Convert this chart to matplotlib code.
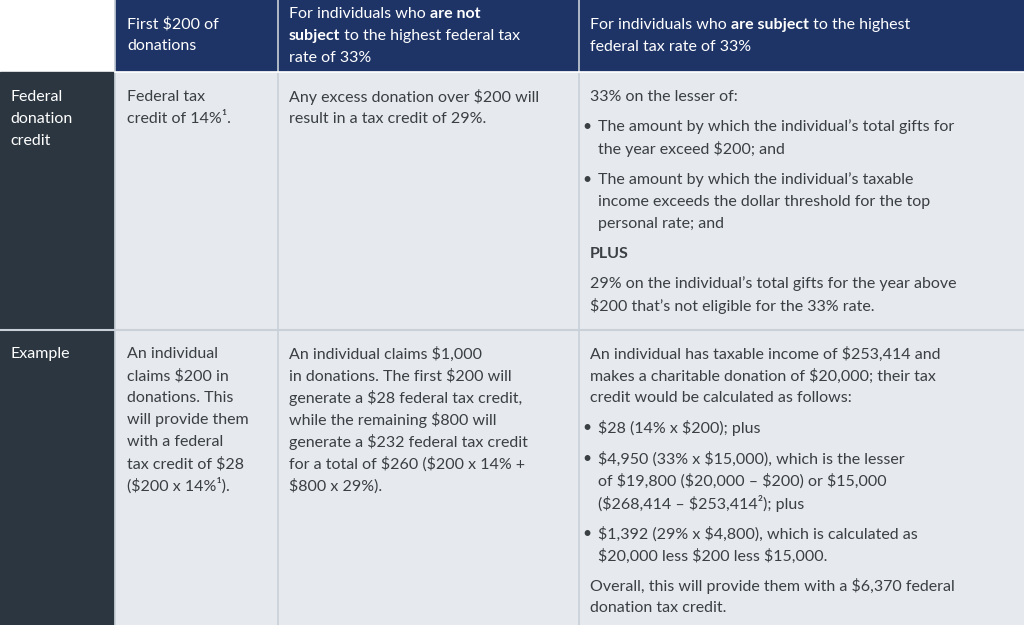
import matplotlib
matplotlib.use("Agg")
import matplotlib.pyplot as plt
from matplotlib.patches import Rectangle

plt.rcParams['font.family'] = ['Lato', 'DejaVu Sans']

# table content; "**" toggles bold, "• " marks a bullet line
col_edges = [0, 115, 278, 579, 1024]
row_edges = [0, 72, 330, 625]

header_lines = [
    [],
    [(24, "First $200 of"), (46, "donations")],
    [(14, "For individuals who **are not**"), (36, "**subject** to the highest federal tax"), (58, "rate of 33%")],
    [(25, "For individuals who **are subject** to the highest"), (47, "federal tax rate of 33%")],
]
row_labels = [
    [(97, "Federal"), (119, "donation"), (141, "credit")],
    [(354, "Example")],
]
row1_cells = [
    [(97, "Federal tax"), (119, "credit of 14%¹.")],
    [(97, "Any excess donation over $200 will"), (119, "result in a tax credit of 29%.")],
    [(97, "33% on the lesser of:"),
     (127, "• The amount by which the individual’s total gifts for"), (149, "  the year exceed $200; and"),
     (180, "• The amount by which the individual’s taxable"), (202, "  income exceeds the dollar threshold for the top"),
     (224, "  personal rate; and"),
     (254, "**PLUS**"),
     (284, "29% on the individual’s total gifts for the year above"), (306, "$200 that’s not eligible for the 33% rate.")],
]
row2_cells = [
    [(354, "An individual"), (376, "claims $200 in"), (398, "donations. This"), (420, "will provide them"),
     (442, "with a federal"), (464, "tax credit of $28"), (486, "($200 x 14%¹).")],
    [(354, "An individual claims $1,000"), (376, "in donations. The first $200 will"),
     (398, "generate a $28 federal tax credit,"), (420, "while the remaining $800 will"),
     (442, "generate a $232 federal tax credit"), (464, "for a total of $260 ($200 x 14% +"),
     (486, "$800 x 29%).")],
    [(354, "An individual has taxable income of $253,414 and"),
     (376, "makes a charitable donation of $20,000; their tax"),
     (398, "credit would be calculated as follows:"),
     (428, "• $28 (14% x $200); plus"),
     (459, "• $4,950 (33% x $15,000), which is the lesser"),
     (481, "  of $19,800 ($20,000 – $200) or $15,000"),
     (503, "  ($268,414 – $253,414²); plus"),
     (534, "• $1,392 (29% x $4,800), which is calculated as"),
     (556, "  $20,000 less $200 less $15,000."),
     (586, "Overall, this will provide them with a $6,370 federal"),
     (608, "donation tax credit.")],
]

NAVY = "#1e3366"
SLATE = "#2b3640"
BODY = "#e6eaee"
TEXT = "#3a3f44"
FS = 11.5

fig = plt.figure(figsize=(10.24, 6.25), dpi=100)
ax = fig.add_axes([0, 0, 1, 1])
ax.set_xlim(0, 1024)
ax.set_ylim(625, 0)
ax.axis('off')

# backgrounds
for i in range(1, 4):
    ax.add_patch(Rectangle((col_edges[i], 0), col_edges[i+1]-col_edges[i], 72, color=NAVY))
for r in range(1, 3):
    ax.add_patch(Rectangle((0, row_edges[r]), 115, row_edges[r+1]-row_edges[r], color=SLATE))
    for i in range(1, 4):
        ax.add_patch(Rectangle((col_edges[i], row_edges[r]), col_edges[i+1]-col_edges[i],
                               row_edges[r+1]-row_edges[r], color=BODY))
# separators
for x in col_edges[1:-1]:
    ax.plot([x, x], [0, 625], color="#c9d0d8", lw=1.2)
ax.plot([115, 1024], [72, 72], color="white", lw=1.2)
ax.plot([0, 1024], [330, 330], color="#c9d0d8", lw=1.5)

fig.canvas.draw()
renderer = fig.canvas.get_renderer()


def draw_line(x, y, s, color):
    if s.startswith("• "):
        ax.text(x - 8, y, "•", fontsize=FS, color=color, va='center', ha='left', parse_math=False)
        s = s[2:]
        x += 8
    elif s.startswith("  "):
        s = s[2:]
        x += 8
    parts = s.split("**")
    for k, p in enumerate(parts):
        if not p:
            continue
        t = ax.text(x, y, p, fontsize=FS, color=color, va='center', ha='left',
                    fontweight='bold' if k % 2 else 'normal', parse_math=False)
        bb = t.get_window_extent(renderer)
        x += bb.width


text_x = [10, 127, 289, 590]
for i, lines in enumerate(header_lines):
    for y, s in lines:
        draw_line(text_x[i], y, s, "white")
for r, lines in enumerate(row_labels):
    for y, s in lines:
        draw_line(text_x[0], y, s, "white")
for cells in (row1_cells, row2_cells):
    for i, lines in enumerate(cells):
        for y, s in lines:
            draw_line(text_x[i+1], y, s, TEXT)

fig.savefig("out.png", dpi=100)
